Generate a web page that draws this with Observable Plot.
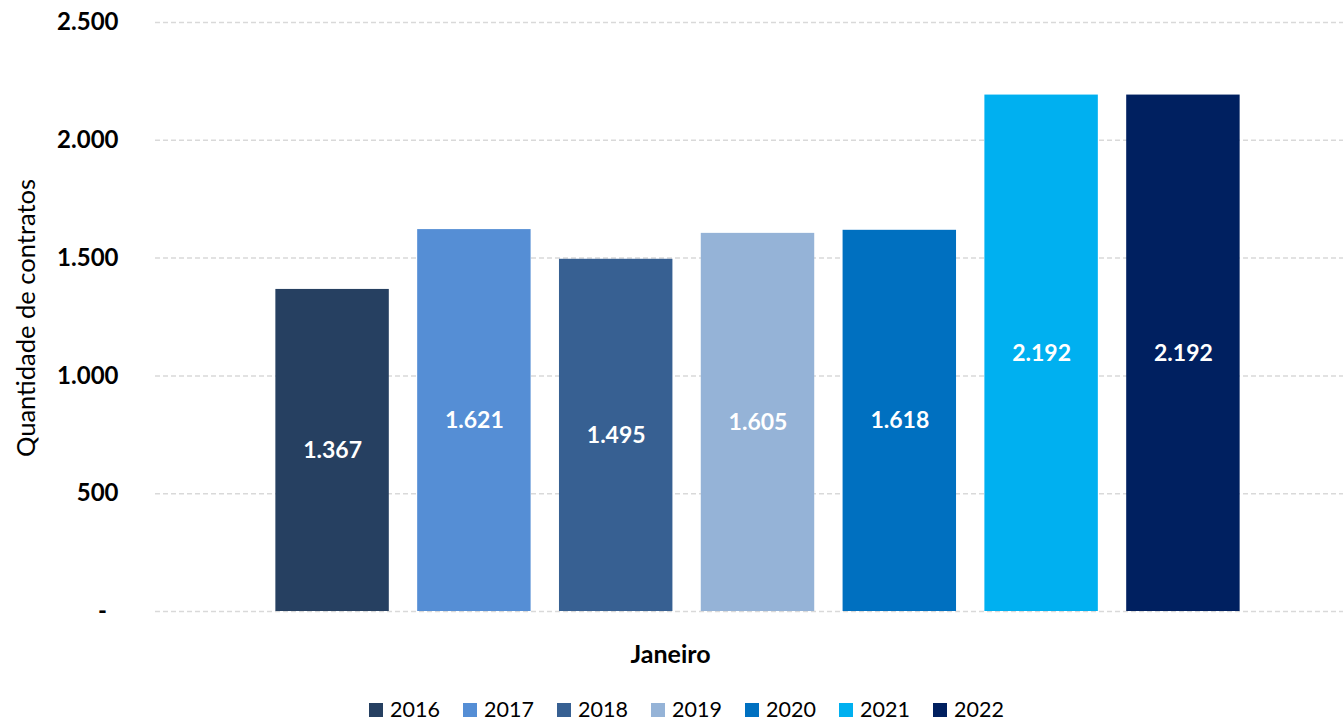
<!DOCTYPE html>
<html><head><meta charset="utf-8">
<script src="https://cdn.jsdelivr.net/npm/d3@7"></script>
<script src="https://cdn.jsdelivr.net/npm/@observablehq/plot@0.6"></script>
<style>
body{margin:0;background:#fff;font-family:Lato,"Open Sans",sans-serif;color:#000}
#chart svg{font-family:Lato,"Open Sans",sans-serif;color:#000}
#legend{position:relative;height:31px;width:1343px}
.item{position:absolute;top:8px;display:flex;align-items:center;font-size:21.5px;line-height:23px;color:#000}
.sw{width:14px;height:14px;margin-right:7px}
</style></head><body><div id="chart"></div><div id="legend"></div>
<script>
const years = ["2016","2017","2018","2019","2020","2021","2022"];
const values = [1367,1621,1495,1605,1618,2192,2192];
const colors = ["#264061","#558ED5","#376092","#95B3D7","#0070C0","#00B0F0","#002060"];
const yTicks = [0,500,1000,1500,2000,2500];
const category = "Janeiro";
const yLabel = "Quantidade de contratos";

const data = years.map((y,i)=>({year:y,value:values[i]}));
const fmt = d => d===0 ? "-\u00a0\u00a0" : d3.format(",")(d).replace(/,/g,".");

const chart = Plot.plot({
  width:1343, height:690, marginTop:22, marginBottom:79, marginLeft:155, marginRight:0,
  style:{fontFamily:"Lato, 'Open Sans', sans-serif", color:"#000", background:"#fff"},
  x:{domain:years, range:[247,1268], padding:0.2, round:false, axis:null},
  y:{domain:[0,2500], axis:null},
  color:{domain:years, range:colors},
  marks:[
    Plot.ruleY(yTicks,{stroke:"#d9d9d9", strokeWidth:1.5, strokeDasharray:"5,3"}),
    Plot.barY(data,{x:"year", y:"value", fill:"year"}),
    Plot.text(data,{x:"year", y:d=>d.value/2, text:d=>fmt(d.value), fill:"white", fontWeight:"bold", fontSize:23}),
    Plot.axisY({ticks:yTicks, tickFormat:fmt, tickSize:0, tickPadding:37, fontSize:24, fontWeight:"bold", label:null, fill:"#000"}),
    Plot.text([yLabel],{frameAnchor:"left", textAnchor:"middle", rotate:-90, dx:-129, dy:1, fontSize:25.5, fill:"#000"}),
    Plot.text([category],{frameAnchor:"bottom", dx:-79, dy:51, fontSize:25, fontWeight:"bold", fill:"#000"})
  ]
});
document.getElementById("chart").append(chart);

const legend = document.getElementById("legend");
years.forEach((y,i)=>{
  const it = document.createElement("div");
  it.className = "item";
  it.style.left = (369 + i*94) + "px";
  const sw = document.createElement("span");
  sw.className = "sw";
  sw.style.background = colors[i];
  const t = document.createElement("span");
  t.textContent = y;
  it.append(sw, t);
  legend.append(it);
});
</script>
</body></html>
